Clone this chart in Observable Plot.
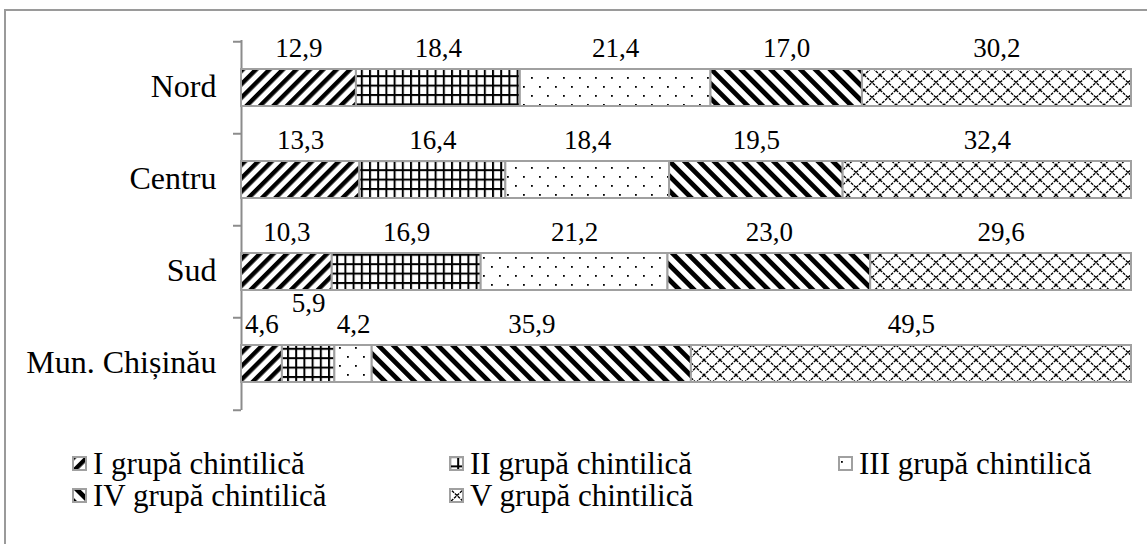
<!DOCTYPE html>
<html><head><meta charset="utf-8">
<script src="https://cdn.jsdelivr.net/npm/d3@7"></script>
<script src="https://cdn.jsdelivr.net/npm/@observablehq/plot@0.6"></script>
<style>
body{margin:0;background:#fff;font-family:"Liberation Serif","Tinos","DejaVu Serif","Noto Serif",serif;}
#wrap{position:absolute;left:0;top:0;width:1147px;height:544px;overflow:hidden;background:#fff}
#frame{position:absolute;left:4px;top:9px;width:1170px;height:570px;border:2px solid #9a9a9a;box-sizing:border-box;}
#chart{position:absolute;left:0;top:0}
.leg{position:absolute;font-size:31px;line-height:31px;white-space:nowrap;color:#000}
.leg svg{vertical-align:middle;margin-right:6px;position:relative;top:-3px}
</style></head>
<body>
<svg width="0" height="0" style="position:absolute">
 <defs>
  <pattern id="p1" patternUnits="userSpaceOnUse" width="9.5" height="9.5" patternTransform="rotate(45)">
   <rect width="9.5" height="9.5" fill="#fff"/><rect x="0" width="4.4" height="9.5" fill="#000"/>
  </pattern>
  <pattern id="p2" patternUnits="userSpaceOnUse" width="8.2" height="9.4">
   <rect width="8.2" height="9.4" fill="#fff"/><rect x="0" width="2" height="9.4" fill="#000"/><rect y="0" width="8.2" height="2" fill="#000"/>
  </pattern>
  <pattern id="p3" patternUnits="userSpaceOnUse" width="16" height="18">
   <rect width="16" height="18" fill="#fff"/><rect x="3" y="5" width="1.8" height="1.8" fill="#000"/><rect x="11" y="14" width="1.8" height="1.8" fill="#000"/>
  </pattern>
  <pattern id="p4" patternUnits="userSpaceOnUse" width="10.5" height="10.5" patternTransform="rotate(-45)">
   <rect width="10.5" height="10.5" fill="#fff"/><rect x="0" width="4.8" height="10.5" fill="#000"/>
  </pattern>
  <pattern id="p5" patternUnits="userSpaceOnUse" width="16" height="15">
   <rect width="16" height="15" fill="#fff"/>
   <path d="M0,0L16,15M16,0L0,15" stroke="#000" stroke-width="1.3" stroke-dasharray="3,1" fill="none"/>
  </pattern>
 </defs>
</svg>
<div id="wrap">
 <div id="frame"></div>
 <div id="chart"></div>
 <div id="legend"></div>
</div>
<script>
const regions = ["Nord", "Centru", "Sud", "Mun. Chișinău"];
const groups = ["I grupă chintilică", "II grupă chintilică", "III grupă chintilică", "IV grupă chintilică", "V grupă chintilică"];
const patternIds = ["p1", "p2", "p3", "p4", "p5"];
const nord = [12.9, 18.4, 21.4, 17.0, 30.2];
const centru = [13.3, 16.4, 18.4, 19.5, 32.4];
const sud = [10.3, 16.9, 21.2, 23.0, 29.6];
const chisinau = [4.6, 5.9, 4.2, 35.9, 49.5];

const series = [nord, centru, sud, chisinau];
const data = [];
regions.forEach((r, i) => groups.forEach((g, j) => data.push({region: r, group: g, gi: j, value: series[i][j]})));

const W = 1147, H = 420, mT = 40, mB = 10, mL = 241, mR = 16;
const step = (H - mT - mB) / regions.length;
const tickLen = 8 / (W - mL - mR);
const fmt = v => v.toFixed(1).replace(".", ",");
const raised = d => d.region === "Mun. Chișinău" && d.gi === 1;
const serif = "'Liberation Serif', 'Tinos', 'DejaVu Serif', 'Noto Serif', serif";

const stackOpts = {x: "value", y: "region", offset: "normalize", order: null};

const plot = Plot.plot({
  width: W, height: H,
  marginTop: mT, marginBottom: mB, marginLeft: mL, marginRight: mR,
  style: {fontFamily: serif, background: "transparent", color: "#000", overflow: "visible"},
  x: {domain: [0, 1], axis: null},
  y: {domain: regions, paddingInner: 0.6, paddingOuter: 0.3, label: null},
  color: {type: "identity"},
  marks: [
    Plot.ruleX([0], {stroke: "#8c8c8c", strokeWidth: 2}),
    Plot.ruleY(regions, {y: d => d, x1: -tickLen, x2: 0, dy: -step / 2, stroke: "#8c8c8c", strokeWidth: 2}),
    Plot.ruleY(regions.slice(-1), {y: d => d, x1: -tickLen, x2: 0, dy: step / 2, stroke: "#8c8c8c", strokeWidth: 2}),
    Plot.barX(data, Plot.stackX({...stackOpts, fill: d => `url(#${patternIds[d.gi]})`, stroke: "#a0a0a0", strokeWidth: 2})),
    Plot.text(data, {...Plot.stackX(stackOpts), text: d => fmt(d.value), filter: d => !raised(d), dy: -40, fontSize: 27, fill: "#000"}),
    Plot.text(data, {...Plot.stackX(stackOpts), text: d => fmt(d.value), filter: d => raised(d), dy: -61, fontSize: 27, fill: "#000"}),
    Plot.axisY({tickSize: 0, tickPadding: 25, fontSize: 32, label: null, dy: -1})
  ]
});
document.getElementById("chart").appendChild(plot);

// legend
const legend = document.getElementById("legend");
const cols = [72, 449, 838];
const rows = [448, 480];
groups.forEach((g, j) => {
  const div = document.createElement("div");
  div.className = "leg";
  div.style.left = cols[j % 3] + "px";
  div.style.top = rows[Math.floor(j / 3)] + "px";
  div.innerHTML = `<svg width="15" height="15"><rect x="1" y="1" width="13" height="13" fill="url(#${patternIds[j]})" stroke="#a0a0a0" stroke-width="2"/></svg>${g}`;
  legend.appendChild(div);
});
</script>
</body></html>
